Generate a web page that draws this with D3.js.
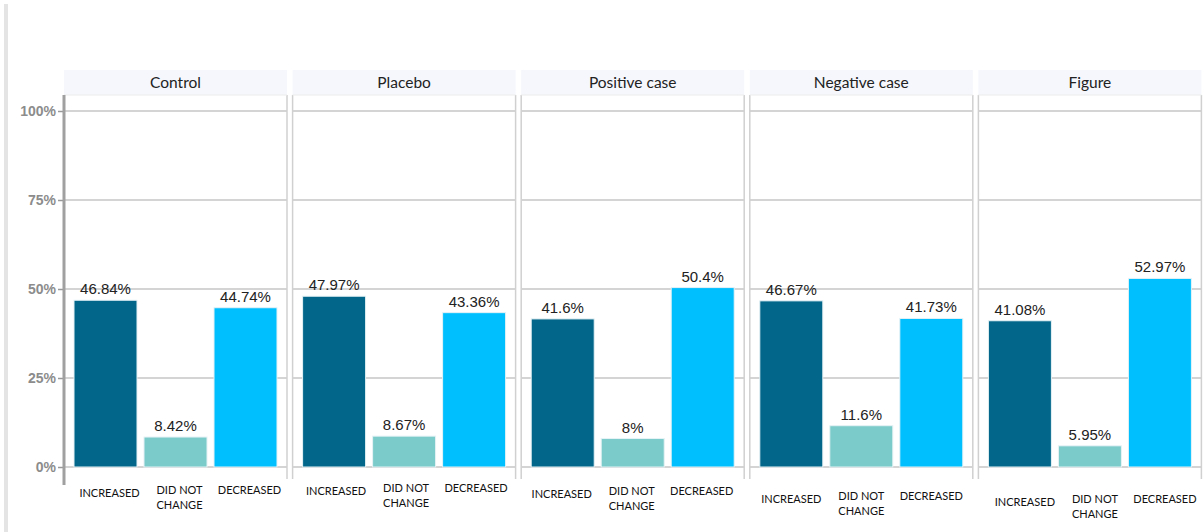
<!DOCTYPE html>
<html lang="en">
<head>
<meta charset="UTF-8">
<title>Change by group</title>
<script src="https://cdn.jsdelivr.net/npm/d3@7"></script>
<style>
  body { margin: 0; background: #fff; }
  svg { display: block; }
</style>
</head>
<body>
<div id="chart"></div>
<script>
// data
var groups = ["Control", "Placebo", "Positive case", "Negative case", "Figure"];
var categories = ["INCREASED", "DID NOT CHANGE", "DECREASED"];
var increased = [46.84, 47.97, 41.6, 46.67, 41.08];
var noChange = [8.42, 8.67, 8, 11.6, 5.95];
var decreased = [44.74, 43.36, 50.4, 41.73, 52.97];
var yTicks = [0, 25, 50, 75, 100];

var colors = ["#02668a", "#7bcbca", "#00bfff"];

// layout
var width = 1203, height = 532;
var panelLeft0 = 64, panelStep = 228.6, panelWidth = 223;
var headerTop = 70, headerBottom = 95, borderBottom = 479;
// small per-panel nudges of the category labels, as in the picture
var labelDx = [4, 2, -1, 0, 5];
var labelDy = [0, -2, 1, 6, 9];

var svg = d3.select("#chart").append("svg")
    .attr("width", width)
    .attr("height", height);

// thin gray bar down the left edge
svg.append("rect")
    .attr("x", 4).attr("y", 4)
    .attr("width", 4).attr("height", height - 4)
    .attr("fill", "#e4e4e4");

var y = d3.scaleLinear().domain([0, 100]).range([467, 111]);

var panelX = d3.scaleBand()
    .domain(groups)
    .range([panelLeft0, panelLeft0 + panelStep * groups.length]);

var x = d3.scaleBand()
    .domain(categories)
    .range([10, panelWidth - 10])
    .paddingInner(0.1)
    .paddingOuter(0);

groups.forEach(function (g, i) {
    var vals = [increased[i], noChange[i], decreased[i]];
    var p = svg.append("g").attr("transform", "translate(" + panelX(g) + ",0)");

    // header strip
    p.append("rect")
        .attr("x", 0).attr("y", headerTop)
        .attr("width", panelWidth).attr("height", headerBottom - headerTop)
        .attr("fill", "#f5f7fc");
    p.append("text")
        .attr("x", panelWidth / 2).attr("y", 88)
        .attr("text-anchor", "middle")
        .style("font-family", "Lato, 'Open Sans', sans-serif")
        .style("font-size", "15.5px")
        .style("fill", "#222")
        .text(g);

    // gridlines
    p.selectAll("line.grid")
        .data(yTicks)
        .enter().append("line")
        .attr("class", "grid")
        .attr("x1", 0).attr("x2", panelWidth)
        .attr("y1", function (d) { return y(d); })
        .attr("y2", function (d) { return y(d); })
        .attr("stroke", "#c6c6c6")
        .attr("stroke-width", 1.5);

    // panel side borders
    [0, panelWidth].forEach(function (bx) {
        p.append("line")
            .attr("x1", bx).attr("x2", bx)
            .attr("y1", headerBottom).attr("y2", borderBottom)
            .attr("stroke", "#d0d0d0")
            .attr("stroke-width", 1.5);
    });
    p.append("line")
        .attr("x1", 0).attr("x2", panelWidth)
        .attr("y1", headerBottom).attr("y2", headerBottom)
        .attr("stroke", "#ececec")
        .attr("stroke-width", 1);

    // bars
    p.selectAll("rect.bar")
        .data(vals)
        .enter().append("rect")
        .attr("class", "bar")
        .attr("x", function (d, j) { return x(categories[j]); })
        .attr("y", function (d) { return y(d); })
        .attr("width", x.bandwidth())
        .attr("height", function (d) { return y(0) - y(d); })
        .attr("fill", function (d, j) { return colors[j]; })
        .attr("stroke", "#e6f2f6")
        .attr("stroke-width", 1);

    // value labels
    p.selectAll("text.val")
        .data(vals)
        .enter().append("text")
        .attr("class", "val")
        .attr("x", function (d, j) { return x(categories[j]) + x.bandwidth() / 2; })
        .attr("y", function (d) { return y(d) - 6; })
        .attr("text-anchor", "middle")
        .style("font-family", "'Liberation Sans', Arial, sans-serif")
        .style("font-size", "15px")
        .style("fill", "#222")
        .text(function (d) { return d + "%"; });

    // category labels
    categories.forEach(function (c, j) {
        var lines = c === "DID NOT CHANGE" ? ["DID NOT", "CHANGE"] : [c];
        var base = (j === 0 ? 497 : 494) + labelDy[i];
        var t = p.append("text")
            .attr("x", x(c) + x.bandwidth() / 2 + labelDx[i])
            .attr("y", base)
            .attr("text-anchor", "middle")
            .style("font-family", "Lato, 'Open Sans', sans-serif")
            .style("font-size", "11px")
            .style("fill", "#111");
        lines.forEach(function (l, k) {
            t.append("tspan")
                .attr("x", x(c) + x.bandwidth() / 2 + labelDx[i])
                .attr("dy", k === 0 ? 0 : 15)
                .text(l);
        });
    });
});

// y axis
var yAxis = svg.append("g")
    .attr("transform", "translate(" + panelLeft0 + ",0)")
    .call(d3.axisLeft(y)
        .tickValues(yTicks)
        .tickSize(6)
        .tickPadding(2)
        .tickFormat(function (d) { return d + "%"; }));
yAxis.select(".domain").remove();
yAxis.selectAll(".tick line").attr("stroke", "#999").attr("stroke-width", 1.5);
yAxis.selectAll(".tick text")
    .style("font-family", "'Liberation Sans', Arial, sans-serif")
    .style("font-size", "14px")
    .style("font-weight", "bold")
    .style("fill", "#8c8c8c");
svg.append("line")
    .attr("x1", panelLeft0).attr("x2", panelLeft0)
    .attr("y1", 95).attr("y2", 485)
    .attr("stroke", "#a0a0a0")
    .attr("stroke-width", 3);
</script>
</body>
</html>
